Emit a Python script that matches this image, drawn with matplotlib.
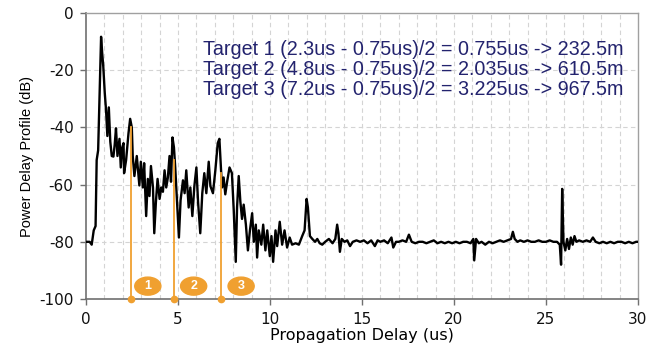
import matplotlib
matplotlib.use("Agg")
import matplotlib.pyplot as plt
from matplotlib.patches import Ellipse

plt.rcParams["axes.unicode_minus"] = False

# power delay profile
delay_us = [0.0, 0.2, 0.31, 0.42, 0.52, 0.58, 0.66, 0.73, 0.78, 0.82, 0.88, 0.94, 1.02, 1.09,
            1.16, 1.24, 1.32, 1.4, 1.49, 1.56, 1.63, 1.71, 1.82, 1.89, 1.97, 2.04, 2.07,
            2.18, 2.31, 2.4, 2.49, 2.54, 2.63, 2.76, 2.9, 2.98, 3.09, 3.16, 3.27, 3.36,
            3.45, 3.53, 3.64, 3.71, 3.8, 3.89, 4.0, 4.09, 4.18, 4.27, 4.36, 4.45, 4.54,
            4.62, 4.7, 4.78, 4.85, 4.94, 5.05, 5.14, 5.27, 5.36, 5.45, 5.58, 5.67, 5.78,
            5.89, 6.0, 6.09, 6.21, 6.32, 6.43, 6.54, 6.67, 6.76, 6.9, 7.03, 7.16, 7.25,
            7.3, 7.39, 7.48, 7.57, 7.67, 7.8, 7.93, 8.03, 8.14, 8.21, 8.3, 8.39, 8.48,
            8.57, 8.69, 8.8, 8.91, 9.03, 9.12, 9.23, 9.3, 9.39, 9.53, 9.63, 9.75, 9.85,
            9.99, 10.08, 10.17, 10.3, 10.39, 10.53, 10.66, 10.79, 10.93, 11.07, 11.2,
            11.39, 11.57, 11.75, 11.88, 11.99, 12.06, 12.17, 12.3, 12.45, 12.57, 12.7,
            12.84, 13.0, 13.2, 13.4, 13.55, 13.65, 13.72, 13.8, 13.9, 14.05, 14.2, 14.35,
            14.5, 14.7, 14.9, 15.1, 15.3, 15.5, 15.7, 15.85, 16.0, 16.2, 16.4, 16.6, 16.7,
            16.85, 17.0, 17.2, 17.4, 17.55, 17.7, 17.9, 18.1, 18.3, 18.5, 18.7, 18.9,
            19.1, 19.3, 19.5, 19.7, 19.9, 20.1, 20.3, 20.5, 20.7, 20.9, 21.05, 21.1,
            21.2, 21.35, 21.5, 21.7, 21.9, 22.1, 22.3, 22.5, 22.7, 22.9, 23.1, 23.2,
            23.3, 23.45, 23.6, 23.8, 24.0, 24.2, 24.4, 24.6, 24.8, 25.0, 25.2, 25.4,
            25.6, 25.75, 25.82, 25.88, 25.95, 26.05, 26.15, 26.25, 26.35, 26.45, 26.55,
            26.65, 26.8, 27.0, 27.2, 27.4, 27.55, 27.7, 27.9, 28.1, 28.3, 28.5, 28.7,
            28.9, 29.1, 29.3, 29.5, 29.7, 29.9, 30.0]
pdp_db = [-80, -80, -81, -76, -74.5, -51.4, -48, -30.4, -17, -8.3, -14, -18.8, -28, -34,
          -43, -33, -45, -50, -50.2, -46, -40.3, -50, -44, -54, -47, -45.5, -56,
          -51.4, -42, -37, -40, -50, -57, -50, -60.3, -52, -61, -52.5, -71, -58,
          -64, -53.5, -61, -77, -66, -58, -65, -61, -62.5, -55, -61, -57.5, -50,
          -59, -43.5, -47, -54, -65, -78.5, -65.5, -58.5, -63, -55, -68, -61, -71,
          -60.5, -54, -66, -77, -63, -56, -63, -52, -60.5, -63, -55, -45.5, -44,
          -50, -61, -57.5, -63.4, -59, -54, -56, -69, -87, -68, -57, -66, -72,
          -67, -74, -83, -76, -70, -80, -74, -85.5, -76, -81, -74, -83, -76,
          -85, -78, -87, -76, -81.5, -73, -81, -76, -82, -78.5, -81,
          -80.5, -81, -78, -76, -65, -68, -78, -79, -80, -79, -80.5,
          -81, -80, -79, -80.5, -79, -74, -77, -83.5, -79, -80, -79.5, -81.5,
          -80, -79.5, -80, -79.5, -80.5, -79.5, -81.5, -79.5, -80, -79.5, -80.5, -78.5, -82,
          -80, -80, -79.5, -80, -77.5, -80, -80.5, -80, -80, -80.5, -80, -79.5,
          -80.5, -80, -80.5, -80, -80.5, -80, -80.5, -80, -80, -80.5, -79, -86.5,
          -79, -80.5, -80, -81, -80, -80.5, -80, -79.5, -80, -79.5, -79, -76.5,
          -79, -80, -79.5, -80, -79.5, -80, -80, -79.5, -80, -80, -79.5, -80,
          -80, -81, -88, -61.5, -80, -83, -79, -82.5, -78.5, -81, -78,
          -80, -79.5, -80, -79.5, -80, -78.5, -80, -80.5, -80, -80.5, -80, -80.5,
          -80, -80, -80.5, -80, -80.5, -80, -80]

# orange target markers (delay, level where line meets the trace)
target_delay = [2.43, 4.8, 7.35]
target_top = [-40, -51.5, -56]
badge_x = [3.36, 5.85, 8.43]
badge_labels = ["1", "2", "3"]

note_lines = ["Target 1 (2.3us - 0.75us)/2 = 0.755us -> 232.5m",
              "Target 2 (4.8us - 0.75us)/2 = 2.035us -> 610.5m",
              "Target 3 (7.2us - 0.75us)/2 = 3.225us -> 967.5m"]

orange = "#F0A030"

fig = plt.figure(figsize=(6.53, 3.47), dpi=100)
ax = fig.add_axes([0.1317, 0.1383, 0.8453, 0.8242])

# grid: every 1 us, every 20 dB
for xv in range(1, 30):
    ax.axvline(xv, color="#d4d4d4", lw=0.8, ls=(0, (4, 3)), zorder=0)
for yv in [-20, -40, -60, -80]:
    ax.axhline(yv, color="#d4d4d4", lw=0.8, ls=(0, (4, 3)), zorder=0)

ax.plot(delay_us, pdp_db, color="black", lw=1.7, zorder=3)

for xd, yt in zip(target_delay, target_top):
    ax.plot([xd, xd], [-100, yt], color=orange, lw=1.3, zorder=4)
    ax.plot(xd, -100, "o", color=orange, ms=4.5, zorder=5, clip_on=False)

for xb, lab in zip(badge_x, badge_labels):
    ax.add_patch(Ellipse((xb, -95.5), 1.42, 6.3, color=orange, zorder=5))
    ax.text(xb, -95.6, lab, color="white", fontsize=9, fontweight="bold",
            ha="center", va="center", family="Liberation Sans", zorder=6)

for i, line in enumerate(note_lines):
    ax.text(6.36, -14.8 - i * 7.0, line, color="#23236e", fontsize=14.2,
            family="Liberation Sans", va="baseline", ha="left", zorder=6)

ax.set_xlim(0, 30)
ax.set_ylim(-100, 0)
ax.set_xticks([0, 5, 10, 15, 20, 25, 30])
ax.set_yticks([0, -20, -40, -60, -80, -100])

for side in ["left", "bottom"]:
    ax.spines[side].set_color("#707070")
    ax.spines[side].set_linewidth(1.2)
for side in ["top", "right"]:
    ax.spines[side].set_color("#a0a0a0")
    ax.spines[side].set_linewidth(1.0)

ax.tick_params(axis="both", length=4, width=1, color="#707070", pad=5)
for lbl in ax.get_xticklabels() + ax.get_yticklabels():
    lbl.set_family("DejaVu Sans")
    lbl.set_fontsize(11)
    lbl.set_color("#111111")

ax.set_xlabel("Propagation Delay (us)", fontsize=11.5, family="DejaVu Sans",
              labelpad=1)
ax.set_ylabel("Power Delay Profile (dB)", fontsize=10.5, family="Liberation Sans",
              labelpad=4)

fig.savefig("out.png", dpi=100)
